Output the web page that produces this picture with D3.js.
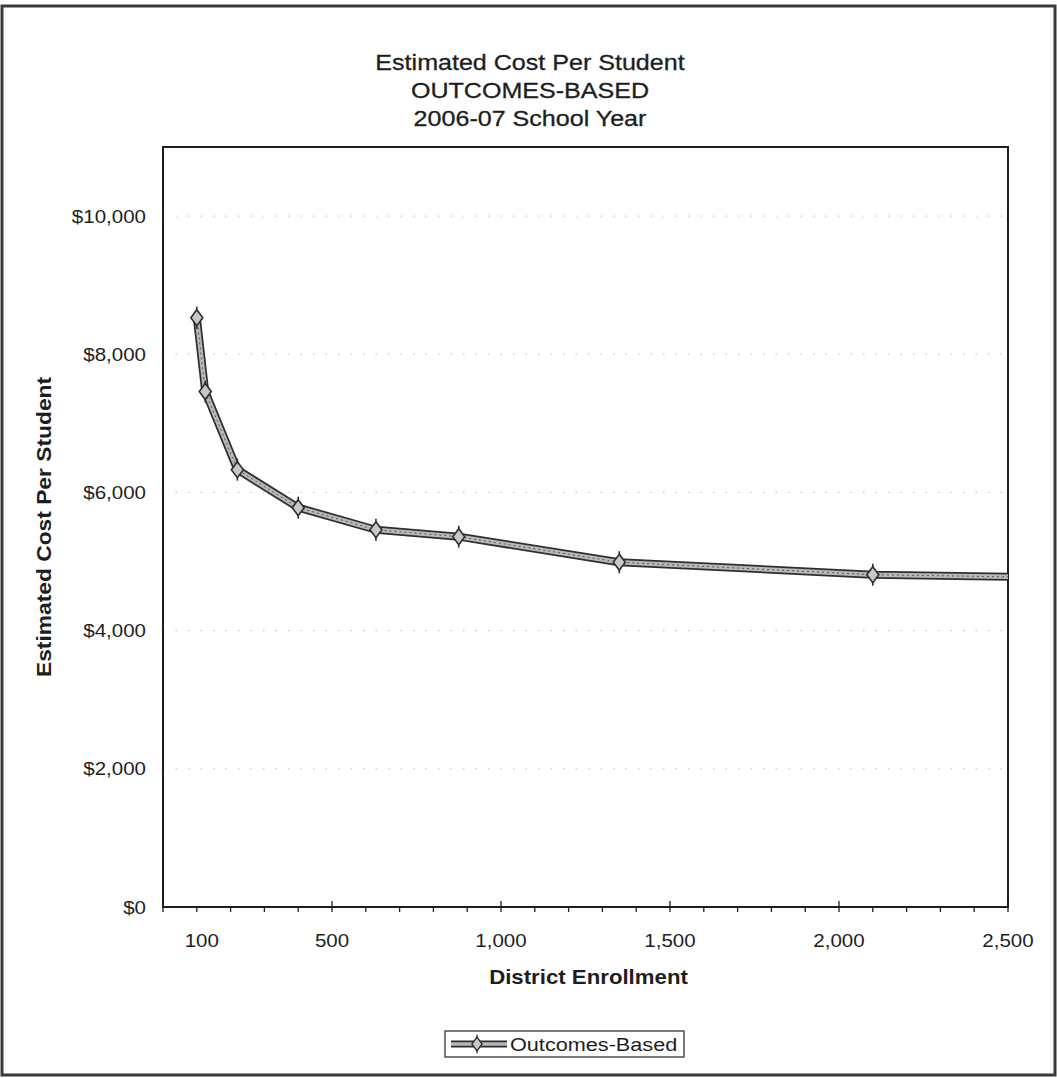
<!DOCTYPE html>
<html>
<head>
<meta charset="utf-8">
<script src="https://cdn.jsdelivr.net/npm/d3@7"></script>
<style>
  html, body { margin: 0; padding: 0; background: #fff; }
  svg { display: block; font-family: "Liberation Sans", Arial, sans-serif; }
</style>
</head>
<body>
<svg id="chart" width="1057" height="1078"></svg>
<script>
// District enrollment sizes and estimated cost per student (outcomes-based model)
const enrollment = [100, 125, 220, 400, 630, 875, 1350, 2100, 3000];
const costPerStudent = [8530, 7460, 6330, 5780, 5460, 5360, 4990, 4810, 4740];

const titleLines = ["Estimated Cost Per Student", "OUTCOMES-BASED", "2006-07 School Year"];
const xTickValues = [100, 500, 1000, 1500, 2000, 2500];
const yTickValues = [0, 2000, 4000, 6000, 8000, 10000];
const seriesName = "Outcomes-Based";
const xTitle = "District Enrollment";
const yTitle = "Estimated Cost Per Student";

const svg = d3.select("#chart");
const W = 1057, H = 1078;
const plot = { left: 163, right: 1008, top: 147, bottom: 907 };
const stretch = 1.14;   // wide-set lettering used throughout the chart
const ink = "#1e1e1e";

const x = d3.scaleLinear().domain([0, 2500]).range([plot.left, plot.right]);
const y = d3.scaleLinear().domain([0, 11000]).range([plot.bottom, plot.top]);

// helper: text placed at (px, py), widened horizontally along its baseline
function label(parent, px, py, str, opts = {}) {
  const t = parent.append("text")
    .attr("transform", `translate(${px},${py})` + (opts.rotate ? ` rotate(${opts.rotate})` : "") + ` scale(${stretch},1)`)
    .attr("text-anchor", opts.anchor || "middle")
    .attr("font-size", opts.size || 18)
    .attr("font-weight", opts.weight || "normal")
    .attr("fill", ink)
    .text(str);
  if (opts.stroke) t.attr("stroke", ink).attr("stroke-width", opts.stroke);
  return t;
}

// outer frame
svg.append("rect")
  .attr("x", 2).attr("y", 6).attr("width", W - 4).attr("height", H - 9)
  .attr("fill", "none").attr("stroke", "#3a3a3a").attr("stroke-width", 3);

// titles
const tg = svg.append("g");
titleLines.forEach((s, i) => label(tg, 530, 70 + i * 28, s, { size: 22, stroke: 0.3 }));

// faint horizontal gridlines
svg.append("g").selectAll("line").data(yTickValues.filter(v => v > 0)).join("line")
  .attr("x1", plot.left).attr("x2", plot.right)
  .attr("y1", d => y(d)).attr("y2", d => y(d))
  .attr("stroke", "#8a8a8a").attr("stroke-width", 1)
  .attr("stroke-dasharray", "1.5 11").attr("opacity", 0.55);

// plot frame
svg.append("rect")
  .attr("x", plot.left).attr("y", plot.top)
  .attr("width", plot.right - plot.left).attr("height", plot.bottom - plot.top)
  .attr("fill", "none").attr("stroke", ink).attr("stroke-width", 2);

// x axis: minor ticks every 100, longer crossing ticks every 500
const minorTicks = d3.range(0, 2501, 100);
svg.append("g").selectAll("line").data(minorTicks).join("line")
  .attr("x1", d => x(d)).attr("x2", d => x(d))
  .attr("y1", d => d % 500 === 0 ? plot.bottom - 6 : plot.bottom)
  .attr("y2", plot.bottom + 5)
  .attr("stroke", ink).attr("stroke-width", 1.3);

const xl = svg.append("g");
xTickValues.forEach(v => label(xl, x(v) + (v === 100 ? 5 : 0), 947, d3.format(",")(v), { size: 18 }));

// y axis labels
const yl = svg.append("g");
yTickValues.forEach(v => label(yl, 146, y(v) + 6.5, "$" + d3.format(",")(v), { size: 18, anchor: "end" }));

// axis titles
label(svg, (plot.left + plot.right) / 2 + 3, 984, xTitle, { size: 19.5, weight: "bold" });
label(svg, 51, (plot.top + plot.bottom) / 2, yTitle, { size: 20, weight: "bold", rotate: -90 });

// series
svg.append("defs").append("clipPath").attr("id", "plotClip")
  .append("rect").attr("x", plot.left).attr("y", plot.top)
  .attr("width", plot.right - plot.left).attr("height", plot.bottom - plot.top);

const data = enrollment.map((e, i) => ({ e, c: costPerStudent[i] }));
const line = d3.line().x(d => x(d.e)).y(d => y(d.c));
const series = svg.append("g").attr("clip-path", "url(#plotClip)");

series.append("path").datum(data).attr("d", line)
  .attr("fill", "none").attr("stroke", "#2e2e2e").attr("stroke-width", 8)
  .attr("stroke-linejoin", "round");
series.append("path").datum(data).attr("d", line)
  .attr("fill", "none").attr("stroke", "#b8b8b8").attr("stroke-width", 4.5)
  .attr("stroke-linejoin", "round");
series.append("path").datum(data).attr("d", line)
  .attr("fill", "none").attr("stroke", "#555").attr("stroke-width", 1)
  .attr("stroke-dasharray", "2 3");

function marker(g) {
  g.append("line").attr("x1", 0).attr("x2", 0).attr("y1", -11).attr("y2", 11)
    .attr("stroke", "#2e2e2e").attr("stroke-width", 1.6);
  g.append("path").attr("d", "M0,-8 L6,0 L0,8 L-6,0 Z")
    .attr("fill", "#c8c8c8").attr("stroke", "#2e2e2e").attr("stroke-width", 1.6);
}

series.selectAll("g.mk").data(data.filter(d => d.e <= 2500)).join("g")
  .attr("class", "mk")
  .attr("transform", d => `translate(${x(d.e)},${y(d.c)})`)
  .each(function () { marker(d3.select(this)); });

// legend
const lg = svg.append("g").attr("transform", "translate(445,1031)");
lg.append("rect").attr("width", 239).attr("height", 26)
  .attr("fill", "#fff").attr("stroke", "#333").attr("stroke-width", 1.3);
lg.append("line").attr("x1", 6).attr("x2", 62).attr("y1", 13).attr("y2", 13)
  .attr("stroke", "#2e2e2e").attr("stroke-width", 7);
lg.append("line").attr("x1", 6).attr("x2", 62).attr("y1", 13).attr("y2", 13)
  .attr("stroke", "#b8b8b8").attr("stroke-width", 3.5);
const lm = lg.append("g").attr("transform", "translate(32,13) scale(0.85)");
marker(lm);
label(lg, 65, 20, seriesName, { size: 19, anchor: "start" });
</script>
</body>
</html>
